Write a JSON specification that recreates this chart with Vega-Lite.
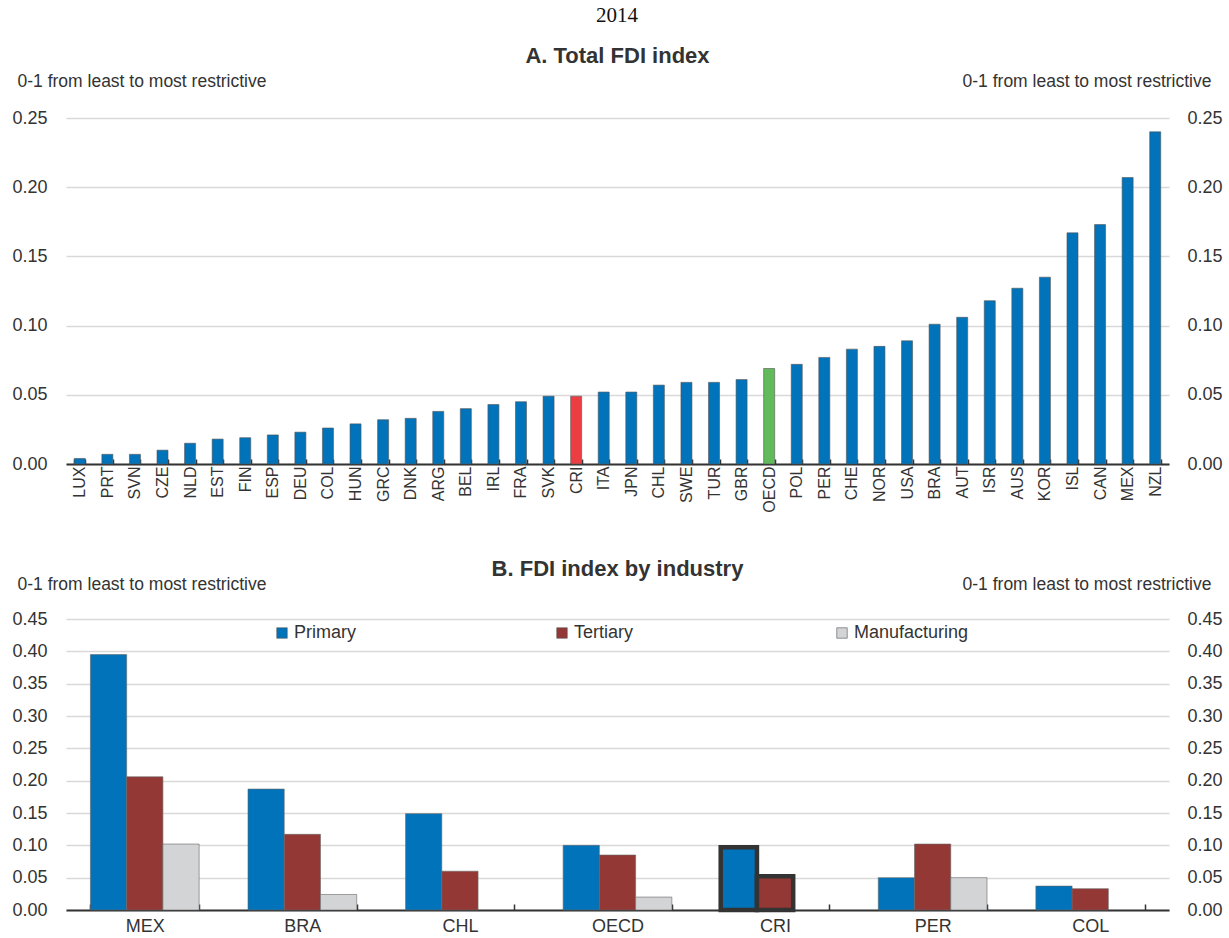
{
  "$schema": "https://vega.github.io/schema/vega-lite/v6.json",
  "background": "white",
  "padding": {"left": 11, "right": 10, "top": 5, "bottom": 0},
  "config": {
    "font": "Liberation Sans",
    "view": {"stroke": null},
    "axis": {"labelFont": "Liberation Sans", "labelFontSize": 18, "labelColor": "#333333", "titleFont": "Liberation Sans", "titleFontSize": 17.5, "titleFontWeight": "normal", "titleColor": "#333333"},
    "title": {"font": "Liberation Sans", "fontSize": 22, "fontWeight": "bold", "color": "#333333", "anchor": "middle"},
    "legend": {"labelFont": "Liberation Sans"}
  },
  "title": {"text": "2014", "font": "Liberation Serif", "fontSize": 21, "fontWeight": "normal", "color": "#111111", "anchor": "middle", "offset": 19},
  "spacing": 155,
  "bounds": "flush",
  "resolve": {"scale": {"color": "independent"}, "legend": {"color": "independent"}},
  "vconcat": [
    {
      "width": 1103,
      "height": 346,
      "title": {"text": "A. Total FDI index", "offset": 4},
      "data": {"values": [
        {"country": "LUX", "value": 0.004},
        {"country": "PRT", "value": 0.007},
        {"country": "SVN", "value": 0.007},
        {"country": "CZE", "value": 0.010},
        {"country": "NLD", "value": 0.015},
        {"country": "EST", "value": 0.018},
        {"country": "FIN", "value": 0.019},
        {"country": "ESP", "value": 0.021},
        {"country": "DEU", "value": 0.023},
        {"country": "COL", "value": 0.026},
        {"country": "HUN", "value": 0.029},
        {"country": "GRC", "value": 0.032},
        {"country": "DNK", "value": 0.033},
        {"country": "ARG", "value": 0.038},
        {"country": "BEL", "value": 0.040},
        {"country": "IRL", "value": 0.043},
        {"country": "FRA", "value": 0.045},
        {"country": "SVK", "value": 0.049},
        {"country": "CRI", "value": 0.049},
        {"country": "ITA", "value": 0.052},
        {"country": "JPN", "value": 0.052},
        {"country": "CHL", "value": 0.057},
        {"country": "SWE", "value": 0.059},
        {"country": "TUR", "value": 0.059},
        {"country": "GBR", "value": 0.061},
        {"country": "OECD", "value": 0.069},
        {"country": "POL", "value": 0.072},
        {"country": "PER", "value": 0.077},
        {"country": "CHE", "value": 0.083},
        {"country": "NOR", "value": 0.085},
        {"country": "USA", "value": 0.089},
        {"country": "BRA", "value": 0.101},
        {"country": "AUT", "value": 0.106},
        {"country": "ISR", "value": 0.118},
        {"country": "AUS", "value": 0.127},
        {"country": "KOR", "value": 0.135},
        {"country": "ISL", "value": 0.167},
        {"country": "CAN", "value": 0.173},
        {"country": "MEX", "value": 0.207},
        {"country": "NZL", "value": 0.240}
      ]},
      "encoding": {
        "x": {
          "field": "country", "type": "nominal", "sort": null,
          "scale": {"paddingInner": 0.6, "paddingOuter": 0.3},
          "axis": {"title": null, "labelAngle": 270, "labelFontSize": 16, "tickBand": "extent", "tickSize": -5, "tickColor": "#333333", "tickWidth": 1.5, "domainColor": "#333333", "domainWidth": 2, "labelPadding": 7, "grid": false}
        }
      },
      "layer": [
        {
          "mark": {"type": "bar", "stroke": "#555555", "strokeWidth": 0.6},
          "encoding": {
            "y": {"field": "value", "type": "quantitative", "scale": {"domain": [0, 0.25]},
              "axis": {"orient": "left", "values": [0, 0.05, 0.1, 0.15, 0.2, 0.25], "format": ".2f", "ticks": false, "domain": false, "labelPadding": 19, "gridColor": "#d9d9d9", "gridWidth": 1.5,
                "title": "0-1 from least to most restrictive", "titleAngle": 0, "titleAlign": "left", "titleBaseline": "alphabetic", "titleX": -49, "titleY": -32}},
            "color": {"condition": [
              {"test": "datum.country === 'CRI'", "value": "#EC3E42"},
              {"test": "datum.country === 'OECD'", "value": "#62BB5A"}
            ], "value": "#0073BA"}
          }
        },
        {
          "mark": {"type": "bar", "opacity": 0},
          "encoding": {
            "y": {"field": "value", "type": "quantitative", "scale": {"domain": [0, 0.25]},
              "axis": {"orient": "right", "values": [0, 0.05, 0.1, 0.15, 0.2, 0.25], "format": ".2f", "ticks": false, "domain": false, "grid": false, "labelPadding": 18,
                "title": "0-1 from least to most restrictive", "titleAngle": 0, "titleAlign": "right", "titleBaseline": "alphabetic", "titleX": 42, "titleY": -32}}
          }
        }
      ],
      "resolve": {"axis": {"y": "independent"}}
    },
    {
      "width": 1103,
      "height": 291,
      "title": {"text": "B. FDI index by industry", "offset": -126},
      "data": {"values": [
        {"country": "MEX", "industry": "Primary", "value": 0.395},
        {"country": "MEX", "industry": "Tertiary", "value": 0.206},
        {"country": "MEX", "industry": "Manufacturing", "value": 0.102},
        {"country": "BRA", "industry": "Primary", "value": 0.187},
        {"country": "BRA", "industry": "Tertiary", "value": 0.117},
        {"country": "BRA", "industry": "Manufacturing", "value": 0.024},
        {"country": "CHL", "industry": "Primary", "value": 0.149},
        {"country": "CHL", "industry": "Tertiary", "value": 0.060},
        {"country": "OECD", "industry": "Primary", "value": 0.100},
        {"country": "OECD", "industry": "Tertiary", "value": 0.085},
        {"country": "OECD", "industry": "Manufacturing", "value": 0.020},
        {"country": "CRI", "industry": "Primary", "value": 0.097},
        {"country": "CRI", "industry": "Tertiary", "value": 0.052},
        {"country": "PER", "industry": "Primary", "value": 0.050},
        {"country": "PER", "industry": "Tertiary", "value": 0.102},
        {"country": "PER", "industry": "Manufacturing", "value": 0.050},
        {"country": "COL", "industry": "Primary", "value": 0.037},
        {"country": "COL", "industry": "Tertiary", "value": 0.033}
      ]},
      "encoding": {
        "x": {
          "field": "country", "type": "nominal", "sort": ["MEX", "BRA", "CHL", "OECD", "CRI", "PER", "COL"],
          "scale": {"paddingInner": 0.31, "paddingOuter": 0.155},
          "axis": {"title": null, "labelAngle": 0, "tickBand": "extent", "tickSize": -6, "tickColor": "#333333", "tickWidth": 1.5, "domainColor": "#333333", "domainWidth": 2, "labelPadding": 13, "grid": false}
        }
      },
      "layer": [
        {
          "mark": {"type": "bar"},
          "encoding": {
            "xOffset": {"field": "industry", "type": "nominal", "sort": ["Primary", "Tertiary", "Manufacturing"], "scale": {"domain": ["Primary", "Tertiary", "Manufacturing"], "paddingInner": 0, "paddingOuter": 0}},
            "y": {"field": "value", "type": "quantitative", "scale": {"domain": [0, 0.45]},
              "axis": {"orient": "left", "values": [0, 0.05, 0.1, 0.15, 0.2, 0.25, 0.3, 0.35, 0.4, 0.45], "format": ".2f", "ticks": false, "domain": false, "labelPadding": 19, "gridColor": "#d9d9d9", "gridWidth": 1.5,
                "title": "0-1 from least to most restrictive", "titleAngle": 0, "titleAlign": "left", "titleBaseline": "alphabetic", "titleX": -49, "titleY": -30}},
            "color": {"field": "industry", "type": "nominal",
              "scale": {"domain": ["Primary", "Tertiary", "Manufacturing"], "range": ["#0073BA", "#943835", "#D3D4D6"]},
              "legend": {"orient": "none", "legendX": 207, "legendY": 5, "direction": "horizontal", "title": null, "symbolType": "square", "symbolSize": 110, "symbolStrokeColor": "#555555", "symbolStrokeWidth": 0.6, "labelFontSize": 18, "labelColor": "#333333", "labelOffset": 3, "gridAlign": "all", "columnPadding": 144}},
            "stroke": {"condition": {"test": "datum.country === 'CRI'", "value": "#333333"}, "value": "#666666"},
            "strokeWidth": {"condition": {"test": "datum.country === 'CRI'", "value": 4.5}, "value": 0.6}
          }
        },
        {
          "mark": {"type": "bar", "opacity": 0},
          "encoding": {
            "y": {"field": "value", "type": "quantitative", "scale": {"domain": [0, 0.45]},
              "axis": {"orient": "right", "values": [0, 0.05, 0.1, 0.15, 0.2, 0.25, 0.3, 0.35, 0.4, 0.45], "format": ".2f", "ticks": false, "domain": false, "grid": false, "labelPadding": 18,
                "title": "0-1 from least to most restrictive", "titleAngle": 0, "titleAlign": "right", "titleBaseline": "alphabetic", "titleX": 42, "titleY": -30}}
          }
        }
      ],
      "resolve": {"axis": {"y": "independent"}}
    }
  ]
}
